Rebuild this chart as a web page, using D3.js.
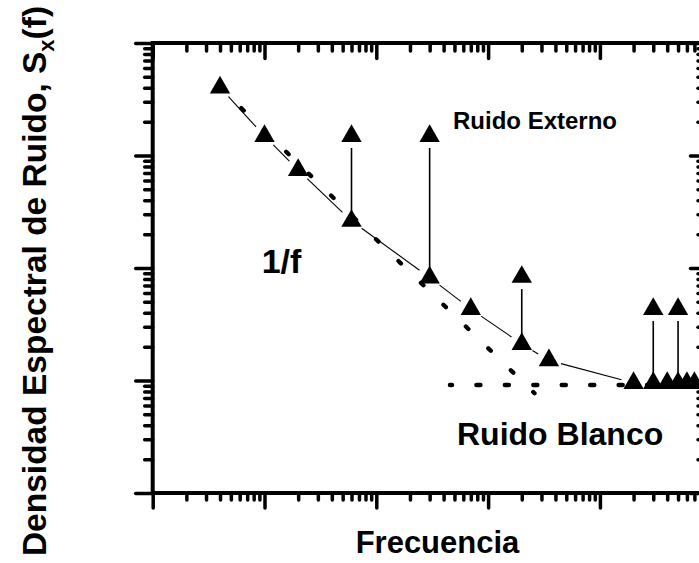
<!DOCTYPE html>
<html>
<head>
<meta charset="utf-8">
<script src="https://cdn.jsdelivr.net/npm/d3@7"></script>
<style>
  html, body { margin: 0; padding: 0; background: #fff; }
  svg { display: block; }
  text { font-family: "Liberation Sans", Arial, Helvetica, sans-serif; font-weight: bold; fill: #000; }
</style>
</head>
<body>
<svg id="chart" width="699" height="563"></svg>
<script>
// Measured noise spectrum (frequency, spectral density)
const frequency = [4, 10, 20, 60, 300, 700, 2000, 3500, 20000, 30000, 40000, 50000, 60000, 70000];
const density   = [4020, 1490, 743, 262, 82.3, 43.2, 21.1, 15.1, 9.5, 9.5, 9.5, 9.5, 9.5, 9.5];

// External interference peaks, standing on the spectrum at the same frequencies
const peakFrequency = [60, 300, 2000, 30000, 50000];
const peakDensity   = [1490, 1490, 83.2, 43.2, 43.2];

// Asymptotes: 1/f trend and white-noise floor
const flickerFrequency = [4, 2600];
const flickerDensity   = [4020, 7.7];
const whiteFrequency   = [456, 88900];
const whiteDensity     = [9.12, 9.12];

// Axis extents and decade ticks (no tick labels are shown)
const xDomain = [1, 88900];
const yDomain = [1, 10000];
const xDecades = [1, 10, 100, 1000, 10000];
const yDecades = [1, 10, 100, 1000, 10000];

const labels = {
  x: "Frecuencia",
  yMain: "Densidad Espectral de Ruido, S",
  ySub: "x",
  yTail: "(f)",
  flicker: "1/f",
  external: "Ruido Externo",
  white: "Ruido Blanco"
};

const svg = d3.select("#chart");
const plotL = 152.7, plotR = 706, plotT = 43, plotB = 493;

const x = d3.scaleLog().domain(xDomain).range([plotL, plotR]);
const y = d3.scaleLog().domain(yDomain).range([plotB, plotT]);

function minors(decades, domain) {
  const out = [];
  decades.forEach(d => { for (let m = 2; m <= 9; m++) { const v = d * m; if (v <= domain[1]) out.push(v); } });
  return out;
}
const xMajor = xDecades.filter(v => v <= xDomain[1]);
const yMajor = yDecades;
const xMinor = minors(xDecades, xDomain);
const yMinor = minors(yDecades.slice(0, -1), yDomain);

// ---- axes ----
const axesG = svg.append("g");
function drawAxis(axisFn, scale, values, size, transform) {
  const g = axesG.append("g")
    .attr("transform", transform)
    .call(axisFn(scale).tickValues(values).tickSize(size).tickSizeOuter(0).tickFormat(""));
  g.select(".domain").remove();
  g.selectAll(".tick line")
    .attr("stroke", "#000").attr("stroke-width", 3.5).attr("stroke-linecap", "round");
}
// bottom: outward, top: inward
drawAxis(d3.axisBottom, x, xMajor, 15, `translate(0,${plotB})`);
drawAxis(d3.axisBottom, x, xMinor, 7, `translate(0,${plotB})`);
drawAxis(d3.axisTop, x, xMajor, -15.5, `translate(0,${plotT})`);
drawAxis(d3.axisTop, x, xMinor, -8, `translate(0,${plotT})`);
// left: outward, right: inward
drawAxis(d3.axisLeft, y, yMajor, 17, `translate(${plotL},0)`);
drawAxis(d3.axisLeft, y, yMinor, 8, `translate(${plotL},0)`);
drawAxis(d3.axisRight, y, yMajor, -15.5, `translate(${plotR},0)`);
drawAxis(d3.axisRight, y, yMinor, -8, `translate(${plotR},0)`);

axesG.append("rect")
  .attr("x", plotL).attr("y", plotT)
  .attr("width", plotR - plotL).attr("height", plotB - plotT)
  .attr("fill", "none").attr("stroke", "#000").attr("stroke-width", 4);

// ---- dotted asymptotes ----
function dottedLine(fs, ss, period, dash, width) {
  const p0 = [x(fs[0]), y(ss[0])], p1 = [x(fs[1]), y(ss[1])];
  const len = Math.hypot(p1[0] - p0[0], p1[1] - p0[1]);
  const n = Math.max(1, Math.round(len / period));
  const step = len / n;
  svg.append("path")
    .attr("d", d3.line()(fs.map((f, i) => [x(f), y(ss[i])])))
    .attr("fill", "none").attr("stroke", "#000")
    .attr("stroke-width", width).attr("stroke-linecap", "round")
    .attr("stroke-dasharray", `${dash},${step - dash}`)
    .attr("stroke-dashoffset", dash / 2);
}
dottedLine(flickerFrequency, flickerDensity, 31.4, 3.5, 4.3);
dottedLine(whiteFrequency, whiteDensity, 27.2, 4, 4.5);

// ---- connecting line with small gaps around the markers ----
const pts = frequency.map((f, i) => [x(f), y(density[i])]);
const gap = 12.5;
const segs = svg.append("g");
for (let i = 0; i < pts.length - 1; i++) {
  const a = pts[i], b = pts[i + 1];
  const dx = b[0] - a[0], dy = b[1] - a[1], L = Math.hypot(dx, dy);
  if (L <= 2 * gap) continue;
  const ux = dx / L, uy = dy / L;
  segs.append("line")
    .attr("x1", a[0] + ux * gap).attr("y1", a[1] + uy * gap)
    .attr("x2", b[0] - ux * gap).attr("y2", b[1] - uy * gap)
    .attr("stroke", "#000").attr("stroke-width", 1.1);
}

// ---- vertical stems from the spectrum up to each interference peak ----
const peakBase = peakFrequency.map(f => density[frequency.indexOf(f)]);
svg.append("g").selectAll("line")
  .data(peakFrequency)
  .join("line")
  .attr("x1", f => x(f)).attr("x2", f => x(f))
  .attr("y1", (f, i) => y(peakDensity[i]) + 12)
  .attr("y2", (f, i) => y(peakBase[i]))
  .attr("stroke", "#000").attr("stroke-width", 1.6);

// ---- triangle markers ----
const tri = d3.symbol(d3.symbolTriangle, 180);
svg.append("g").selectAll("path")
  .data(frequency.map((f, i) => [f, density[i]]).concat(peakFrequency.map((f, i) => [f, peakDensity[i]])))
  .join("path")
  .attr("d", tri)
  .attr("transform", d => `translate(${x(d[0])},${y(d[1])})`)
  .attr("fill", "#000");

// ---- annotations ----
svg.append("text").attr("x", 453).attr("y", 129.3).attr("font-size", 24).text(labels.external);
svg.append("text").attr("x", 261.7).attr("y", 273.3).attr("font-size", 34).text(labels.flicker);
svg.append("text").attr("x", 457).attr("y", 445).attr("font-size", 32).text(labels.white);

// ---- axis titles ----
svg.append("text")
  .attr("x", 437.5).attr("y", 553).attr("text-anchor", "middle").attr("font-size", 31)
  .text(labels.x);

const yt = svg.append("text")
  .attr("transform", "translate(46,281) rotate(-90)")
  .attr("text-anchor", "middle").attr("font-size", 33.5);
yt.append("tspan").text(labels.yMain);
yt.append("tspan").attr("font-size", 22).attr("dy", 8).text(labels.ySub);
yt.append("tspan").attr("dy", -8).text(labels.yTail);
</script>
</body>
</html>
